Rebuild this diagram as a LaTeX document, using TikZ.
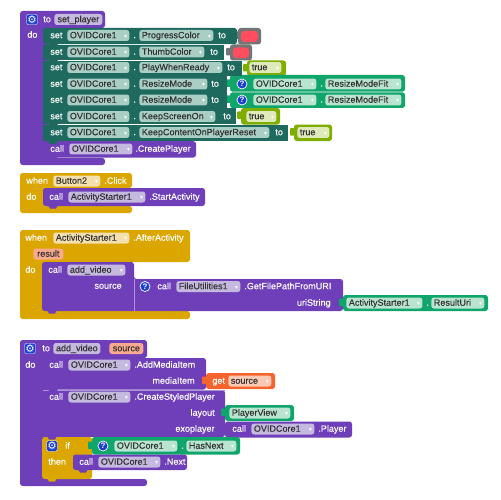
\documentclass[tikz,border=0pt]{standalone}
\usepackage{fontspec}
\setmainfont{Liberation Sans}
\newfontfamily\symfont{DejaVu Sans}
\usepackage{xcolor}
\definecolor{procC}{HTML}{6E3FB8}
\definecolor{procP}{HTML}{C6B9DF}
\definecolor{setC}{HTML}{1E6A5E}
\definecolor{setP}{HTML}{A9CFC4}
\definecolor{valC}{HTML}{0FA56B}
\definecolor{valP}{HTML}{B9E5D0}
\definecolor{limeC}{HTML}{80AE00}
\definecolor{limeP}{HTML}{DFEABA}
\definecolor{ctrlC}{HTML}{DBA600}
\definecolor{ctrlP}{HTML}{F3E0AC}
\definecolor{varC}{HTML}{F4642C}
\definecolor{varP}{HTML}{FBC9B3}
\definecolor{argP}{HTML}{F9A98D}
\definecolor{grayC}{HTML}{757575}
\definecolor{redC}{HTML}{FF4D5E}
\definecolor{iconC}{HTML}{1A3FD0}
\usepackage{tikz}
\newlength{\bpx}
\setlength{\bpx}{0.02cm}
\newcommand{\blockfont}{\fontsize{5.15}{6}\selectfont\addfontfeature{FakeBold=0.2}}
\newcommand{\dd}[2]{\makebox[#1\bpx][l]{\hspace{2.5\bpx}#2\hfill{\symfont\fontsize{3.2}{4}\selectfont\color{white}▾}\hspace{2.5\bpx}}}
\newcommand{\pl}[2]{\makebox[#1\bpx]{#2}}
% tab below a statement block
\newcommand{\notch}[3]{\fill[#3] (#1+4,#2-0.5) -- (#1+14,#2-0.5) -- (#1+12,#2+3) -- (#1+6,#2+3) -- cycle;}
% plug at the left of a value block
\newcommand{\plug}[3]{\fill[#3, rounded corners=0.5pt] (#1-4,#2+3.5) rectangle (#1+1,#2+11);}
\tikzset{%
    lbl/.style={%
        anchor=west, inner sep=0, text=white, font=\blockfont, text height=3.7pt, text depth=0.6pt
    },
    pill/.style={%
        lbl, draw=none, rounded corners=1.5pt, minimum height=0.22cm, text=black!80
    },
    blk/.style={%
        rounded corners=1.5pt
    },
    help/.style={%
        circle, fill=iconC, draw=white, line width=0.4pt, inner sep=0, minimum size=0.2cm,
        text=white, font=\fontsize{4.5}{5}\selectfont\bfseries
    },
    gear/.style={%
        rectangle, rounded corners=0.8pt, fill=iconC, draw=white, line width=0.2pt, inner sep=0, minimum size=0.21cm,
        text=white, font=\symfont\fontsize{6}{6}\selectfont
    }
}

\begin{document}
\begin{tikzpicture}[x=0.02cm, y=-0.02cm]
    \useasboundingbox (0,0) rectangle (500,500);

    % set_player
    \fill[procC, blk] (20,11) -- (105,11) -- (105,28) -- (48,28) -- (48,158) -- (105,158) -- (105,165) -- (20,165) -- cycle;
    \node[gear] (gearA) at (32,19.5) {⚙};
    \node[lbl] (toA) at (43,19.5) {to};
    \node[pill, fill=procP] (nameA) at (54,19.5) {\pl{48}{set\_player}};
    \node[lbl] (doA) at (27,35) {do};

    \fill[grayC, blk] (238,28) rectangle (261,44.5);
    \fill[grayC, blk] (230,44.5) rectangle (252,60.5);
    \plug{238}{28}{grayC}
    \plug{230}{44.5}{grayC}
    \fill[redC, rounded corners=2pt] (241,31) rectangle (258,42);
    \fill[redC, rounded corners=2pt] (233,47.5) rectangle (249,58);
    \fill[limeC, blk] (247,60.5) rectangle (286,76);
    \fill[limeC, blk] (241,108) rectangle (280,124.5);
    \fill[limeC, blk] (294,124.5) rectangle (332,141);
    \plug{247}{60.5}{limeC}
    \plug{241}{108}{limeC}
    \plug{294}{124.5}{limeC}
    \fill[valC, blk] (230,75) rectangle (405,91.7);
    \fill[valC, blk] (230,92.3) rectangle (405,108);
    \plug{230}{76}{valC}
    \plug{230}{92}{valC}

    \fill[setC, blk] (43,28) rectangle (237,44.2);
    \fill[setC] (43,44.6) rectangle (224,60.2);
    \fill[setC] (43,60.6) rectangle (242,75.8);
    \fill[setC] (43,76.2) rectangle (227,91.8);
    \fill[setC] (43,92.2) rectangle (227,107.8);
    \fill[setC] (43,108.2) rectangle (236,124.3);
    \fill[setC] (43,124.7) rectangle (288,140.8);
    \fill[procC, blk] (43,141.2) rectangle (196,157.5);
    \foreach \y in {44.4, 60.4, 76, 92, 108, 124.5, 141} {
        \notch{44}{\y}{setC}
    }
    \notch{44}{157}{procC}

    \foreach \n/\y/\w/\t/\tox in {
        a/35.5/74/ProgressColor/218, b/52/65/ThumbColor/210, c/67.5/83/PlayWhenReady/227,
        d/84/68/ResizeMode/211, e/100/68/ResizeMode/211, f/116.5/76/KeepScreenOn/223,
        g/132.5/130/KeepContentOnPlayerReset/275} {
        \node[lbl] (set\n) at (50,\y) {set};
        \node[pill, fill=setP] (core\n) at (67,\y) {\dd{62}{OVIDCore1}};
        \node[lbl] (dot\n) at (133,\y) {.};
        \node[pill, fill=setP] (prop\n) at (139,\y) {\dd{\w}{\t}};
        \node[lbl] (to\n) at (\tox,\y) {to};
    }
    \node[pill, fill=limeP] (trueC) at (249,67.5) {\dd{32}{true}};
    \node[pill, fill=limeP] (trueF) at (246,116.5) {\dd{30}{true}};
    \node[pill, fill=limeP] (trueG) at (297,132.5) {\dd{32}{true}};
    \foreach \n/\y in {d/84, e/100} {
        \node[help] (help\n) at (242,\y) {?};
        \node[pill, fill=valP] (val\n) at (253,\y) {\dd{63}{OVIDCore1}};
        \node[lbl] (vdot\n) at (320,\y) {.};
        \node[pill, fill=valP] (fit\n) at (325,\y) {\dd{76}{ResizeModeFit}};
    }
    \node[lbl] (callA) at (50,149) {call};
    \node[pill, fill=procP] (coreCall) at (69,149) {\dd{63}{OVIDCore1}};
    \node[lbl] (create) at (135,149) {.CreatePlayer};

    % Button2 click
    \fill[ctrlC, blk] (20,173) -- (132,173) -- (132,188) -- (48,188) -- (48,206) -- (132,206) -- (132,213) -- (20,213) -- cycle;
    \fill[procC, blk] (43,188) rectangle (205,206);
    \notch{44}{205.5}{procC}
    \node[lbl] (whenB) at (26,181) {when};
    \node[pill, fill=ctrlP] (button) at (53,181) {\dd{47}{Button2}};
    \node[lbl] (click) at (104,181) {.Click};
    \node[lbl] (doB) at (26,197) {do};
    \node[lbl] (callB) at (49,197) {call};
    \node[pill, fill=procP] (starterB) at (68,197) {\dd{77}{ActivityStarter1}};
    \node[lbl] (start) at (149,197) {.StartActivity};

    % AfterActivity
    \fill[ctrlC, blk] (20,230) -- (190,230) -- (190,262) -- (47,262) -- (47,311) -- (190,311) -- (190,319) -- (20,319) -- cycle;
    \fill[procC, blk] (42,262) -- (134,262) -- (134,279) -- (343,279) -- (343,311) -- (42,311) -- cycle;
    \fill[procP!70!procC] (133.5,279) rectangle (134,311);
    \notch{43}{310.5}{procC}
    \fill[valC, blk] (343,295) rectangle (488,311);
    \plug{343}{295}{valC}
    \node[lbl] (whenC) at (25,238) {when};
    \node[pill, fill=ctrlP] (starterC) at (53,238) {\dd{76}{ActivityStarter1}};
    \node[lbl] (after) at (133,238) {.AfterActivity};
    \node[pill, fill=argP] (result) at (33,254) {\pl{30}{result}};
    \node[lbl] (doC) at (25,270) {do};
    \node[lbl] (callC) at (48,270) {call};
    \node[pill, fill=procP] (addC) at (67,270) {\dd{58}{add\_video}};
    \node[lbl, anchor=east] (sourceC) at (122,286) {source};
    \node[help] (helpC) at (145,286.5) {?};
    \node[lbl] (callD) at (157,286.5) {call};
    \node[pill, fill=procP] (fileC) at (176,286.5) {\dd{64}{FileUtilities1}};
    \node[lbl] (getfile) at (244,286.5) {.GetFilePathFromURI};
    \node[lbl, anchor=east] (uri) at (331,303) {uriString};
    \node[pill, fill=valP] (starterD) at (346,303) {\dd{76}{ActivityStarter1}};
    \node[lbl] (dotD) at (426,303) {.};
    \node[pill, fill=valP] (resulturi) at (431,303) {\dd{53}{ResultUri}};

    % add_video
    \fill[procC, blk] (20,340) -- (147,340) -- (147,358) -- (48,358) -- (48,479) -- (147,479) -- (147,486) -- (20,486) -- cycle;
    \fill[procC, blk] (43,358) rectangle (206,389.6);
    \fill[procC, blk] (43,390.2) rectangle (225,437);
    \fill[procP!70!procC] (43,389.6) rectangle (225,390.2);
    \notch{44}{389.5}{procC}
    \fill[varC, blk] (206,373) rectangle (275,389);
    \plug{206}{373}{varC}
    \fill[valC, blk] (225,405) rectangle (294,421);
    \plug{225}{405}{valC}
    \fill[procC, blk] (225,421.5) rectangle (352,437.5);
    \fill[ctrlC, blk] (42,437) -- (92,437) -- (92,479) -- (42,479) -- cycle;
    \notch{43}{436.5}{procC}
    \fill[valC, blk] (92,437) rectangle (240,454.5);
    \plug{92}{438}{valC}
    \fill[procC, blk] (73,454.5) rectangle (187,470);
    \notch{74}{469.5}{procC}
    \notch{43}{478.5}{ctrlC}
    \node[gear] (gearD) at (30,348.5) {⚙};
    \node[lbl] (toD) at (42,348.5) {to};
    \node[pill, fill=procP] (nameD) at (53,348.5) {\pl{47}{add\_video}};
    \node[pill, fill=argP] (sourceD) at (109,348.5) {\pl{34}{source}};
    \node[lbl] (doD) at (25,365) {do};
    \node[lbl] (callE) at (49,365) {call};
    \node[pill, fill=procP] (coreE) at (68,365) {\dd{62}{OVIDCore1}};
    \node[lbl] (addmedia) at (134,365) {.AddMediaItem};
    \node[lbl, anchor=east] (media) at (195,381) {mediaItem};
    \node[lbl] (getE) at (212,381) {get};
    \node[pill, fill=varP] (sourceE) at (228,381) {\dd{43}{source}};
    \node[lbl] (callF) at (49,397) {call};
    \node[pill, fill=procP] (coreF) at (68,397) {\dd{62}{OVIDCore1}};
    \node[lbl] (styled) at (134,397) {.CreateStyledPlayer};
    \node[lbl, anchor=east] (layout) at (215,413) {layout};
    \node[pill, fill=valP] (view) at (229,413) {\dd{61}{PlayerView}};
    \node[lbl, anchor=east] (exo) at (215,429) {exoplayer};
    \node[lbl] (callG) at (232,429) {call};
    \node[pill, fill=procP] (coreG) at (251,429) {\dd{63}{OVIDCore1}};
    \node[lbl] (player) at (318,429) {.Player};
    \node[gear] (gearH) at (52,446) {⚙};
    \node[lbl] (ifH) at (65,446) {if};
    \node[help] (helpH) at (103,446) {?};
    \node[pill, fill=valP] (coreH) at (114,446) {\dd{63}{OVIDCore1}};
    \node[lbl] (dotH) at (181,446) {.};
    \node[pill, fill=valP] (next) at (186,446) {\dd{50}{HasNext}};
    \node[lbl] (thenH) at (48,462) {then};
    \node[lbl] (callH) at (79,462) {call};
    \node[pill, fill=procP] (coreI) at (98,462) {\dd{62}{OVIDCore1}};
    \node[lbl] (nextcall) at (164,462) {.Next};
\end{tikzpicture}
\end{document}
